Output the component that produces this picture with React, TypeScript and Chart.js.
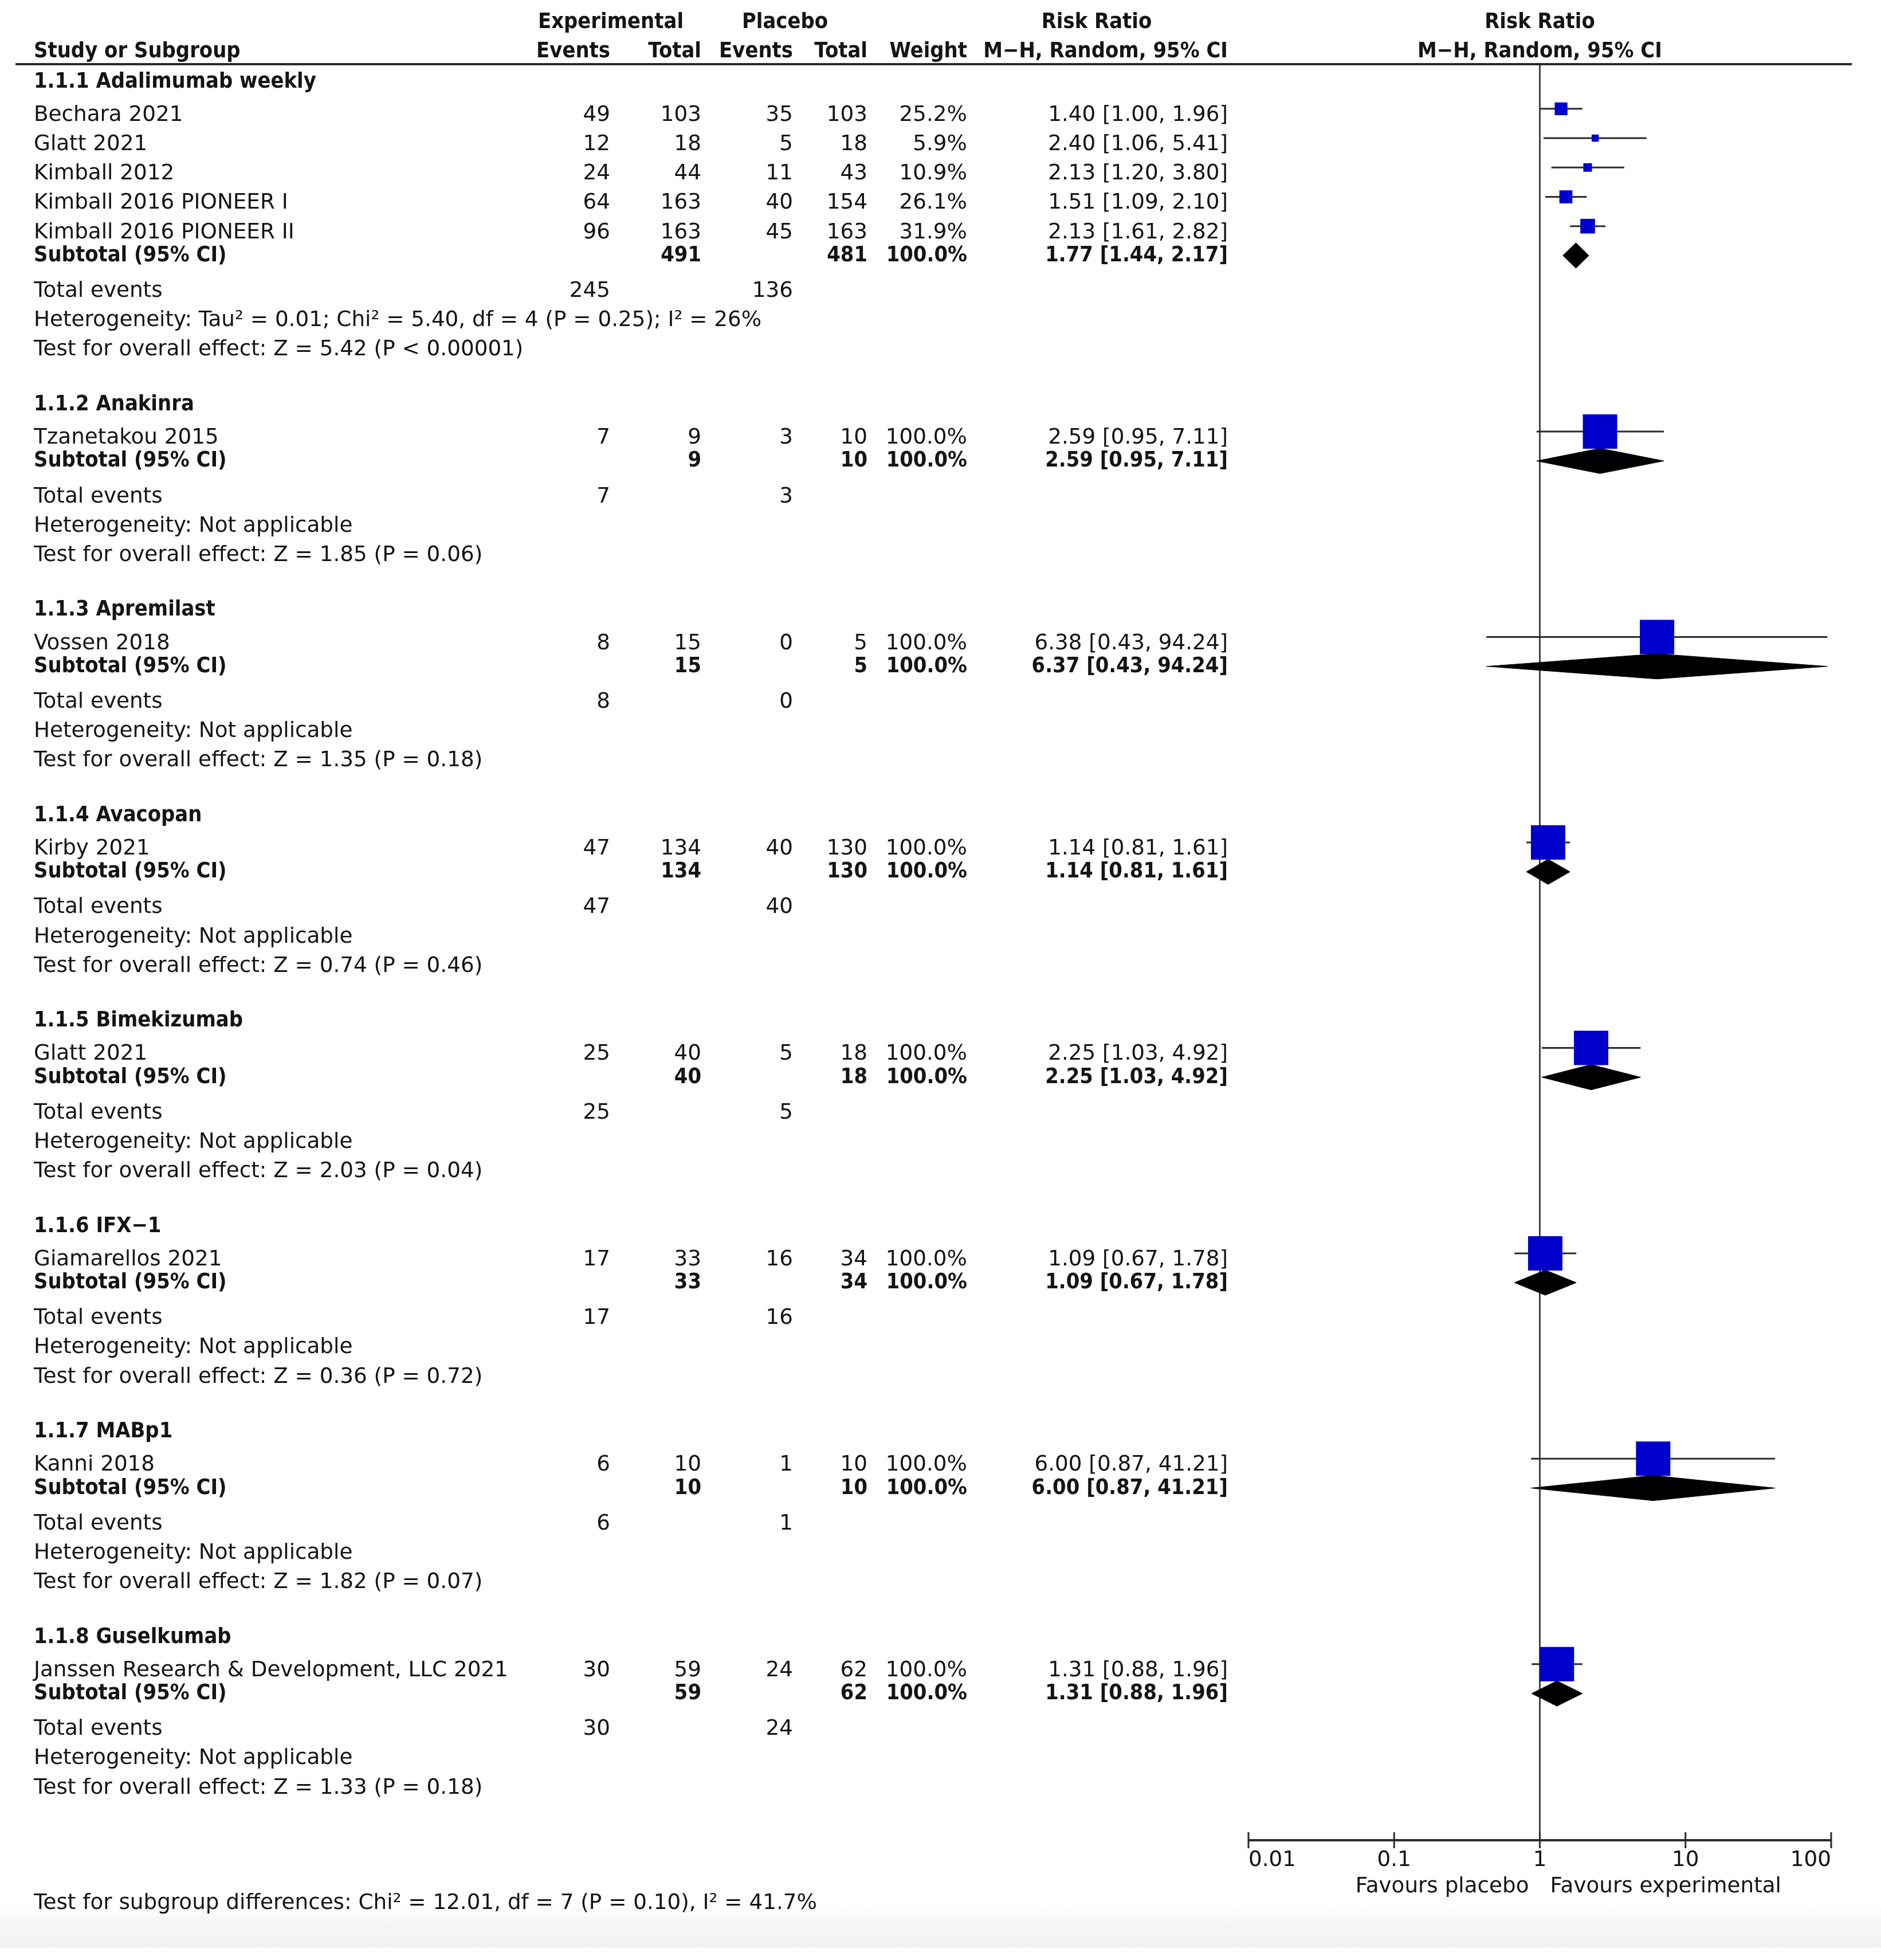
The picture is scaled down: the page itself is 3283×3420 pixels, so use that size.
import React, { useEffect, useRef } from "react";
import { Chart, registerables } from "chart.js";

Chart.register(...registerables);

// ---------------- DATA ----------------
const groupNames = [
  "1.1.1 Adalimumab weekly",
  "1.1.2 Anakinra",
  "1.1.3 Apremilast",
  "1.1.4 Avacopan",
  "1.1.5 Bimekizumab",
  "1.1.6 IFX−1",
  "1.1.7 MABp1",
  "1.1.8 Guselkumab",
];

const studyNames = [
  "Bechara 2021",
  "Glatt 2021",
  "Kimball 2012",
  "Kimball 2016 PIONEER I",
  "Kimball 2016 PIONEER II",
  "Tzanetakou 2015",
  "Vossen 2018",
  "Kirby 2021",
  "Glatt 2021",
  "Giamarellos 2021",
  "Kanni 2018",
  "Janssen Research & Development, LLC 2021",
];
const studyGroup = [0, 0, 0, 0, 0, 1, 2, 3, 4, 5, 6, 7];
const expEvents = [49, 12, 24, 64, 96, 7, 8, 47, 25, 17, 6, 30];
const expTotal = [103, 18, 44, 163, 163, 9, 15, 134, 40, 33, 10, 59];
const ctlEvents = [35, 5, 11, 40, 45, 3, 0, 40, 5, 16, 1, 24];
const ctlTotal = [103, 18, 43, 154, 163, 10, 5, 130, 18, 34, 10, 62];
const studyWeight = [25.2, 5.9, 10.9, 26.1, 31.9, 100, 100, 100, 100, 100, 100, 100];
const studyRR = [1.4, 2.4, 2.13, 1.51, 2.13, 2.59, 6.38, 1.14, 2.25, 1.09, 6.0, 1.31];
const studyLo = [1.0, 1.06, 1.2, 1.09, 1.61, 0.95, 0.43, 0.81, 1.03, 0.67, 0.87, 0.88];
const studyHi = [1.96, 5.41, 3.8, 2.1, 2.82, 7.11, 94.24, 1.61, 4.92, 1.78, 41.21, 1.96];

const subExpTotal = [491, 9, 15, 134, 40, 33, 10, 59];
const subCtlTotal = [481, 10, 5, 130, 18, 34, 10, 62];
const subWeight = [100, 100, 100, 100, 100, 100, 100, 100];
const subRR = [1.77, 2.59, 6.37, 1.14, 2.25, 1.09, 6.0, 1.31];
const subLo = [1.44, 0.95, 0.43, 0.81, 1.03, 0.67, 0.87, 0.88];
const subHi = [2.17, 7.11, 94.24, 1.61, 4.92, 1.78, 41.21, 1.96];
const totExpEvents = [245, 7, 8, 47, 25, 17, 6, 30];
const totCtlEvents = [136, 3, 0, 40, 5, 16, 1, 24];
const heterogeneity = [
  "Heterogeneity: Tau² = 0.01; Chi² = 5.40, df = 4 (P = 0.25); I² = 26%",
  "Heterogeneity: Not applicable",
  "Heterogeneity: Not applicable",
  "Heterogeneity: Not applicable",
  "Heterogeneity: Not applicable",
  "Heterogeneity: Not applicable",
  "Heterogeneity: Not applicable",
  "Heterogeneity: Not applicable",
];
const overallZ = ["5.42", "1.85", "1.35", "0.74", "2.03", "0.36", "1.82", "1.33"];
const overallP = ["P < 0.00001", "P = 0.06", "P = 0.18", "P = 0.46", "P = 0.04", "P = 0.72", "P = 0.07", "P = 0.18"];

const xTicks = [0.01, 0.1, 1, 10, 100];
const xTickLabels = ["0.01", "0.1", "1", "10", "100"];
const favoursLeft = "Favours placebo";
const favoursRight = "Favours experimental";
const subgroupTest = "Test for subgroup differences: Chi² = 12.01, df = 7 (P = 0.10), I² = 41.7%";

// ---------------- LAYOUT / STYLE ----------------
const W = 3283;
const H = 3420;
const FONT = '"DejaVu Sans", "Noto Sans", sans-serif';
const FS = 37.3;
const NORMAL_SX = 1.0;
const BOLD_SX = 0.91;
const TEXT_COLOR = "#141414";
const LINE_COLOR = "#2b2b2b";
const SQUARE_COLOR = "#0000cc";
const Y_MIN = -0.52;
const Y_MAX = 60;
const DIAMOND_HALF = 0.43;

const COL = {
  study: 59,
  expEvents: 1065,
  expTotal: 1224,
  ctlEvents: 1384,
  ctlTotal: 1514,
  weight: 1688,
  ci: 2143,
  riskHeadCenter: 1914,
  expHeadCenter: 1066,
  ctlHeadCenter: 1370,
};

type Row = { kind: string; row: number; g: number; s?: number };

function buildRows(): Row[] {
  const rows: Row[] = [];
  let r = 0;
  for (let g = 0; g < groupNames.length; g++) {
    rows.push({ kind: "heading", row: r++, g });
    studyGroup.forEach((sg, s) => {
      if (sg === g) rows.push({ kind: "study", row: r++, g, s });
    });
    rows.push({ kind: "subtotal", row: r++, g });
    rows.push({ kind: "events", row: r++, g });
    rows.push({ kind: "het", row: r++, g });
    rows.push({ kind: "test", row: r++, g });
    r++;
  }
  return rows;
}

const ROWS = buildRows();
const studyRow = (s: number) => ROWS.find((r) => r.kind === "study" && r.s === s)!.row;
const subRow = (g: number) => ROWS.find((r) => r.kind === "subtotal" && r.g === g)!.row;

const squareSide = (w: number) => 9.5 + 0.505 * w;
const fmtCI = (rr: number, lo: number, hi: number) =>
  `${rr.toFixed(2)} [${lo.toFixed(2)}, ${hi.toFixed(2)}]`;

function txt(ctx: CanvasRenderingContext2D, s: string, x: number, y: number, align: CanvasTextAlign, bold = false) {
  ctx.save();
  ctx.font = `${bold ? "bold " : ""}${FS}px ${FONT}`;
  ctx.fillStyle = TEXT_COLOR;
  ctx.textAlign = align;
  ctx.textBaseline = "alphabetic";
  ctx.translate(x, y);
  ctx.scale(bold ? BOLD_SX : NORMAL_SX, 1);
  ctx.fillText(s, 0, 0);
  ctx.restore();
}

const tablePlugin = {
  id: "forestTable",
  beforeDraw(chart: any) {
    const ctx: CanvasRenderingContext2D = chart.ctx;
    ctx.save();
    ctx.fillStyle = "#ffffff";
    ctx.fillRect(0, 0, W, H);
    const g = ctx.createLinearGradient(0, 3322, 0, 3398);
    g.addColorStop(0, "#ffffff");
    g.addColorStop(0.45, "#f6f6f6");
    g.addColorStop(1, "#f1f1f1");
    ctx.fillStyle = g;
    ctx.fillRect(0, 3322, W, 76);
    ctx.restore();
  },
  afterDraw(chart: any) {
    const ctx: CanvasRenderingContext2D = chart.ctx;
    const xs = chart.scales.x;
    const ys = chart.scales.y;
    const area = chart.chartArea;
    const py = (r: number) => ys.getPixelForValue(r);
    const plotCenter = (area.left + area.right) / 2;

    // headers
    const h1 = py(-2) + 13;
    const h2 = py(-1) + 13;
    txt(ctx, "Experimental", COL.expHeadCenter, h1, "center", true);
    txt(ctx, "Placebo", COL.ctlHeadCenter, h1, "center", true);
    txt(ctx, "Risk Ratio", COL.riskHeadCenter, h1, "center", true);
    txt(ctx, "Risk Ratio", plotCenter, h1, "center", true);
    txt(ctx, "Study or Subgroup", COL.study, h2, "left", true);
    txt(ctx, "Events", COL.expEvents, h2, "right", true);
    txt(ctx, "Total", COL.expTotal, h2, "right", true);
    txt(ctx, "Events", COL.ctlEvents, h2, "right", true);
    txt(ctx, "Total", COL.ctlTotal, h2, "right", true);
    txt(ctx, "Weight", COL.weight, h2, "right", true);
    txt(ctx, "M−H, Random, 95% CI", COL.ci, h2, "right", true);
    txt(ctx, "M−H, Random, 95% CI", plotCenter, h2, "center", true);

    // header rule
    ctx.save();
    ctx.strokeStyle = LINE_COLOR;
    ctx.lineWidth = 4;
    ctx.beginPath();
    ctx.moveTo(27, area.top);
    ctx.lineTo(3232, area.top);
    ctx.stroke();
    ctx.restore();

    // body rows
    ROWS.forEach((r) => {
      const g = r.g;
      if (r.kind === "heading") {
        txt(ctx, groupNames[g], COL.study, py(r.row) + 14, "left", true);
      } else if (r.kind === "study") {
        const s = r.s!;
        const y = py(r.row) + 21;
        txt(ctx, studyNames[s], COL.study, y, "left");
        txt(ctx, String(expEvents[s]), COL.expEvents, y, "right");
        txt(ctx, String(expTotal[s]), COL.expTotal, y, "right");
        txt(ctx, String(ctlEvents[s]), COL.ctlEvents, y, "right");
        txt(ctx, String(ctlTotal[s]), COL.ctlTotal, y, "right");
        txt(ctx, studyWeight[s].toFixed(1) + "%", COL.weight, y, "right");
        txt(ctx, fmtCI(studyRR[s], studyLo[s], studyHi[s]), COL.ci, y, "right");
      } else if (r.kind === "subtotal") {
        const y = py(r.row) + 10;
        txt(ctx, "Subtotal (95% CI)", COL.study, y, "left", true);
        txt(ctx, String(subExpTotal[g]), COL.expTotal, y, "right", true);
        txt(ctx, String(subCtlTotal[g]), COL.ctlTotal, y, "right", true);
        txt(ctx, subWeight[g].toFixed(1) + "%", COL.weight, y, "right", true);
        txt(ctx, fmtCI(subRR[g], subLo[g], subHi[g]), COL.ci, y, "right", true);
      } else if (r.kind === "events") {
        const y = py(r.row) + 21;
        txt(ctx, "Total events", COL.study, y, "left");
        txt(ctx, String(totExpEvents[g]), COL.expEvents, y, "right");
        txt(ctx, String(totCtlEvents[g]), COL.ctlEvents, y, "right");
      } else if (r.kind === "het") {
        txt(ctx, heterogeneity[g], COL.study, py(r.row) + 21, "left");
      } else if (r.kind === "test") {
        txt(ctx, `Test for overall effect: Z = ${overallZ[g]} (${overallP[g]})`, COL.study, py(r.row) + 21, "left");
      }
    });

    // x axis
    const ay = area.bottom;
    const x0 = xs.getPixelForValue(xTicks[0]);
    const x1 = xs.getPixelForValue(xTicks[xTicks.length - 1]);
    ctx.save();
    ctx.strokeStyle = LINE_COLOR;
    ctx.lineWidth = 4;
    ctx.beginPath();
    ctx.moveTo(x0, ay);
    ctx.lineTo(x1, ay);
    ctx.stroke();
    ctx.lineWidth = 3;
    xTicks.forEach((t) => {
      const px = xs.getPixelForValue(t);
      ctx.beginPath();
      ctx.moveTo(px, ay - 14);
      ctx.lineTo(px, ay + 14);
      ctx.stroke();
    });
    ctx.restore();
    xTicks.forEach((t, i) => {
      const px = xs.getPixelForValue(t);
      const align: CanvasTextAlign = i === 0 ? "left" : i === xTicks.length - 1 ? "right" : "center";
      txt(ctx, xTickLabels[i], px, ay + 45, align);
    });
    const one = xs.getPixelForValue(1);
    txt(ctx, favoursLeft, one - 19, ay + 91, "right");
    txt(ctx, favoursRight, one + 18, ay + 91, "left");
    txt(ctx, subgroupTest, COL.study, ay + 120, "left");
  },
};

function buildDatasets() {
  const ds: any[] = [];
  // squares
  ds.push({
    label: "studies",
    data: studyNames.map((_, s) => ({ x: studyRR[s], y: studyRow(s) })),
    showLine: false,
    pointStyle: "rect",
    pointRadius: (c: any) => squareSide(studyWeight[c.dataIndex]) / Math.SQRT2,
    pointBackgroundColor: SQUARE_COLOR,
    pointBorderWidth: 0,
    order: 0,
  });
  // diamonds
  groupNames.forEach((_, g) => {
    const r = subRow(g);
    ds.push({
      label: "diamond" + g,
      data: [
        { x: subLo[g], y: r },
        { x: subRR[g], y: r - DIAMOND_HALF },
        { x: subHi[g], y: r },
        { x: subRR[g], y: r + DIAMOND_HALF },
        { x: subLo[g], y: r },
      ],
      borderColor: "#000",
      borderWidth: 1,
      backgroundColor: "#000",
      fill: "shape",
      pointRadius: 0,
      tension: 0,
      order: 1,
    });
  });
  // CI lines
  studyNames.forEach((_, s) => {
    const r = studyRow(s);
    ds.push({
      label: "ci" + s,
      data: [
        { x: studyLo[s], y: r },
        { x: studyHi[s], y: r },
      ],
      borderColor: LINE_COLOR,
      borderWidth: 3,
      pointRadius: 0,
      fill: false,
      order: 2,
    });
  });
  // line of no effect
  ds.push({
    label: "null",
    data: [
      { x: 1, y: Y_MIN },
      { x: 1, y: Y_MAX },
    ],
    borderColor: "#222",
    borderWidth: 2.5,
    pointRadius: 0,
    fill: false,
    order: 3,
  });
  return ds;
}

export default function App() {
  const ref = useRef<HTMLCanvasElement>(null);
  useEffect(() => {
    document.body.style.margin = "0";
    document.body.style.overflow = "hidden";
    const canvas = ref.current!;
    const chart = new Chart(canvas, {
      type: "line",
      data: { datasets: buildDatasets() },
      options: {
        animation: false,
        responsive: false,
        devicePixelRatio: 1,
        events: [],
        layout: { padding: { left: 2179, right: W - 3196, top: 112, bottom: H - 3211 } },
        plugins: { legend: { display: false }, tooltip: { enabled: false } },
        scales: {
          x: { type: "logarithmic", min: 0.01, max: 100, display: false },
          y: { type: "linear", min: Y_MIN, max: Y_MAX, reverse: true, display: false },
        },
      },
      plugins: [tablePlugin],
    } as any);
    return () => chart.destroy();
  }, []);
  return (
    <div style={{ position: "absolute", left: 0, top: 0, width: W, height: H, background: "#fff" }}>
      <canvas ref={ref} width={W} height={H} style={{ width: W, height: H, display: "block" }} />
    </div>
  );
}
